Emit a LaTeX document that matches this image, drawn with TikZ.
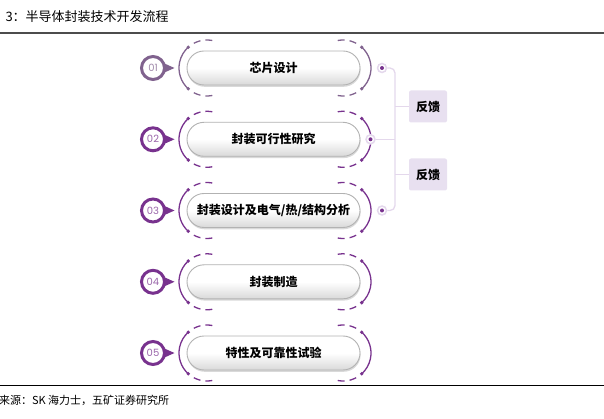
\documentclass[tikz,border=0pt]{standalone}
\usepackage{fontspec}
\setmainfont{Noto Sans CJK SC}
\newfontfamily\numfont{Poppins}
\usetikzlibrary{shadows}
\definecolor{lilac}{RGB}{120,50,142}
\definecolor{lilacsoft}{RGB}{128,98,142}
\definecolor{lilaclight}{RGB}{228,216,236}
\definecolor{fbfill}{RGB}{232,224,240}
\begin{document}
\begin{tikzpicture}[x=1pt, y=-1pt,
    stepbox/.style={rectangle, rounded corners=17pt, minimum width=173pt, minimum height=34pt,
        draw=gray!60, line width=0.9pt, top color=white, bottom color=gray!30, middle color=white,
        drop shadow={shadow xshift=0.6pt, shadow yshift=-1.8pt, opacity=0.3},
        font=\bfseries\fontsize{12}{14}\selectfont},
    numdot/.style={circle, draw=#1, line width=3pt, fill=white, minimum size=23pt, inner sep=0pt,
        text=#1!75, font=\numfont\fontsize{10}{11}\selectfont},
    ringdot/.style={circle, draw=lilaclight, line width=1.5pt, fill=white, minimum size=9pt, inner sep=0pt,
        path picture={\fill[lilac] (path picture bounding box.center) circle (2);}},
    fbbox/.style={fill=fbfill, rounded corners=2pt, minimum width=38pt, minimum height=32pt,
        font=\bfseries\fontsize{12}{14}\selectfont},
    link/.style={draw=lilaclight, line width=1.3pt},
    bracket/.style={line width=1.3pt},
    bracketdash/.style={line width=1.3pt, dash pattern=on 7pt off 5pt}]
    \useasboundingbox (0,0) rectangle (604,419);
    % Title and rules
    \node[anchor=base west, font=\fontsize{13}{15}\selectfont] (title) at (2,22) {3：半导体封装技术开发流程};
    \draw[line width=2.5pt, black!70] (0,33) -- (604,33);
    \draw[line width=1.5pt, black] (0,385.5) -- (604,385.5);
    \node[anchor=base west, font=\fontsize{11}{13}\selectfont] (src) at (-4.5,404) {来源：SK 海力士，五矿证券研究所};
    % Steps (pill + number badge + brackets)
    \foreach \i/\y/\c/\lbl in {1/68/lilacsoft/{芯片设计}, 2/139.3/lilac/{封装可行性研究},
            3/210.5/lilac/{封装设计及电气/热/结构分析}, 4/281.8/lilac/{封装制造}, 5/353/lilac/{特性及可靠性试验}} {
        \node[stepbox] (p\i) at (273.5,\y) {\lbl};
        \fill[\c] (160,\y-6.5) -- (174.5,\y) -- (160,\y+6.5) -- cycle;
        \node[numdot=\c] (n\i) at (153,\y) {0\i};
        \coordinate (lc\i) at (207,\y);
        \coordinate (rc\i) at (343,\y);
        \draw[\c, bracket] (lc\i) ++(132:28) arc[start angle=132, end angle=228, radius=28];
        \draw[\c, bracket] (rc\i) ++(-48:28) arc[start angle=-48, end angle=48, radius=28];
        \draw[\c, bracketdash] (lc\i) ++(118:28) arc[start angle=118, end angle=70, radius=28];
        \draw[\c, bracketdash] (lc\i) ++(242:28) arc[start angle=242, end angle=290, radius=28];
        \draw[\c, bracketdash] (rc\i) ++(62:28) arc[start angle=62, end angle=110, radius=28];
        \draw[\c, bracketdash] (rc\i) ++(298:28) arc[start angle=298, end angle=250, radius=28];
        \foreach \a in {132,228} \fill[\c] (lc\i) ++(\a:28) circle (1.9);
        \foreach \a in {-48,48} \fill[\c] (rc\i) ++(\a:28) circle (1.9);
    }
    % Feedback loop
    \node[ringdot] (d1) at (382,68) {};
    \node[ringdot] (d2) at (370.5,139.3) {};
    \node[ringdot] (d3) at (382,210.5) {};
    \node[fbbox] (fb1) at (428,106.5) {反馈};
    \node[fbbox] (fb2) at (428,174.5) {反馈};
    \coordinate (bus) at (395,0);
    \draw[link, rounded corners=5pt] (d1) -- (d1 -| bus) -- (d3 -| bus) -- (d3);
    \draw[link] (d2) -- (d2 -| bus);
    \draw[link] (fb1) -- (fb1 -| bus);
    \draw[link] (fb2) -- (fb2 -| bus);
\end{tikzpicture}
\end{document}
